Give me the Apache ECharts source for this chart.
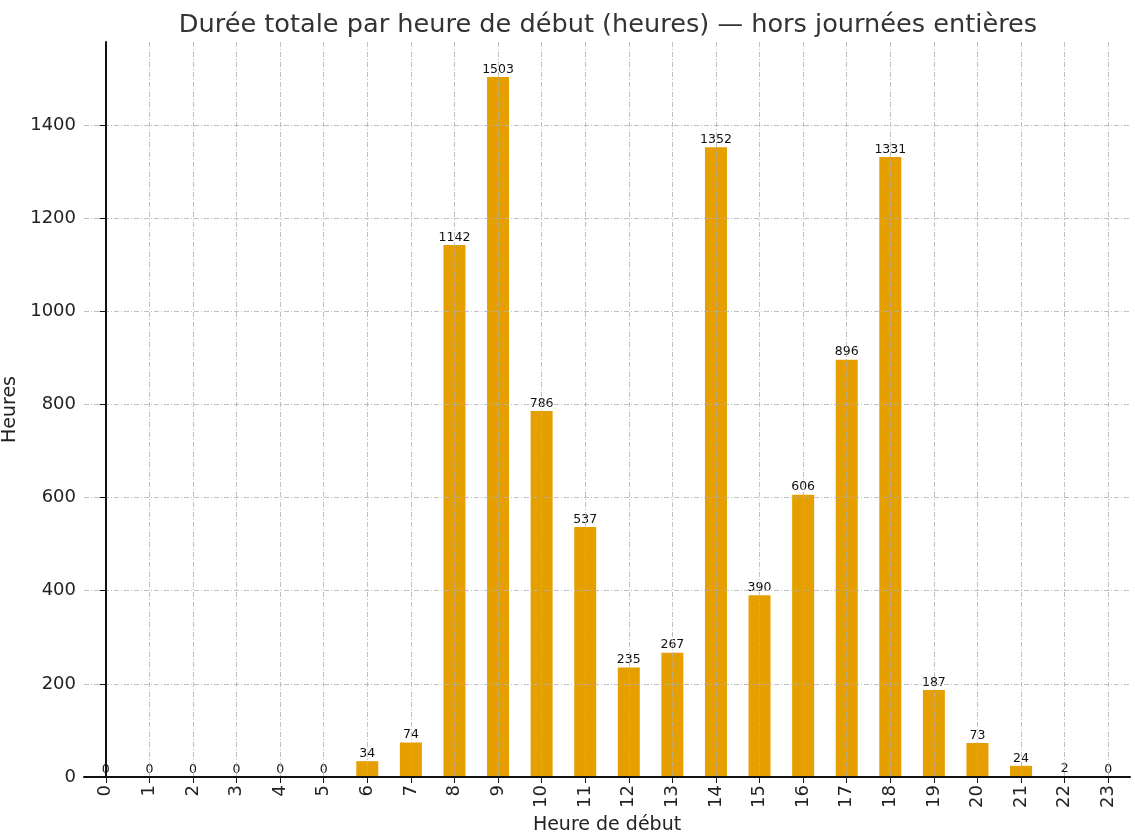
<!DOCTYPE html>
<html><head><meta charset="utf-8">
<script src="https://cdn.jsdelivr.net/npm/echarts@6/dist/echarts.min.js"></script>
<style>html,body{margin:0;padding:0;background:#fff}#c{width:1135px;height:834px}</style>
</head><body><div id="c"></div>
<script>
const hours = [0,1,2,3,4,5,6,7,8,9,10,11,12,13,14,15,16,17,18,19,20,21,22,23];
const totals = [0,0,0,0,0,0,34,74,1142,1503,786,537,235,267,1352,390,606,896,1331,187,73,24,2,0];
const yTicks = [0,200,400,600,800,1000,1200,1400];
const titleText = 'Durée totale par heure de début (heures) — hors journées entières';
const xName = 'Heure de début';
const yName = 'Heures';

const font = 'DejaVu Sans';
const chart = echarts.init(document.getElementById('c'), null, {renderer:'canvas'});
const gridLine = {show:true, lineStyle:{color:'#b0b0b0', width:0.8, type:[5,2,1,2]}};
chart.setOption({
  animation:false,
  backgroundColor:'#fff',
  title:{text:titleText, left:603, textAlign:'center', top:7,
    textStyle:{fontFamily:font, fontSize:25.6, fontWeight:'normal', color:'#333'}},
  grid:{left:84, right:5, top:42, bottom:57, containLabel:false, outerBoundsMode:'none'},
  xAxis:{type:'value', min:-0.5, max:23.5, z:5,
    name:xName, nameLocation:'middle', nameGap:37,
    nameTextStyle:{fontFamily:font, fontSize:19, color:'#222'},
    axisLine:{show:true, onZero:false, lineStyle:{color:'#111', width:2}},
    axisTick:{show:true, length:6, customValues:hours, lineStyle:{color:'#111', width:1}},
    axisLabel:{customValues:hours, rotate:90, fontFamily:font, fontSize:18, color:'#222', margin:8,
      formatter:v=>String(v)},
    splitLine:gridLine},
  yAxis:{type:'value', min:0, max:1578, z:5,
    name:yName, nameLocation:'middle', nameGap:61,
    nameTextStyle:{fontFamily:font, fontSize:19, color:'#222'},
    axisLine:{show:true, lineStyle:{color:'#111', width:2}},
    axisTick:{show:true, length:6, customValues:yTicks, lineStyle:{color:'#111', width:1}},
    axisLabel:{customValues:yTicks, fontFamily:font, fontSize:18, color:'#222', margin:8,
      formatter:v=>String(v)},
    splitLine:gridLine},
  series:[{type:'bar', barWidth:22, z:2,
    data:hours.map((h,i)=>[h, totals[i]]),
    itemStyle:{color:'#E69F00'},
    label:{show:true, position:'top', distance:1, fontFamily:font, fontSize:12.5, color:'#111',
      formatter:p=>String(p.value[1])}}]
});
</script></body></html>
